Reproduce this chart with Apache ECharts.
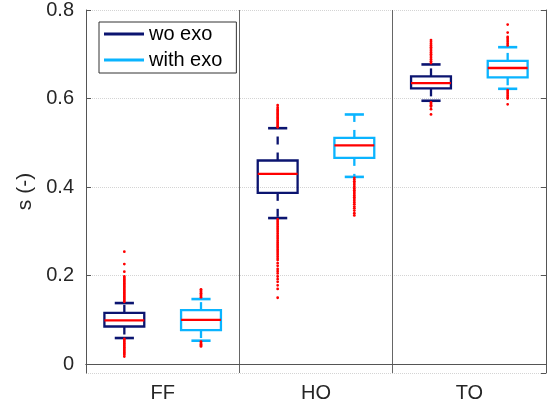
<!DOCTYPE html>
<html><head><meta charset="utf-8">
<script src="https://cdn.jsdelivr.net/npm/echarts@6/dist/echarts.min.js"></script>
<style>html,body{margin:0;padding:0;background:#fff}#c{width:553px;height:409px}</style>
</head><body><div id="c"></div>
<script>
const categories = ['FF', 'HO', 'TO'];
// per category: [lower whisker, q1, median, q3, upper whisker]
const woExoStats = [
  [0.059, 0.085, 0.099, 0.116, 0.138],
  [0.330, 0.387, 0.430, 0.460, 0.533],
  [0.595, 0.623, 0.635, 0.650, 0.677]
];
const withExoStats = [
  [0.053, 0.077, 0.100, 0.122, 0.147],
  [0.423, 0.466, 0.494, 0.511, 0.564],
  [0.622, 0.648, 0.669, 0.685, 0.716]
];
const woExoOutliers = [
  [0.254, 0.226, 0.209, 0.198, 0.195, 0.192, 0.189, 0.186, 0.183, 0.180, 0.177, 0.174, 0.171, 0.168, 0.165, 0.162, 0.159, 0.156, 0.153, 0.150, 0.147, 0.144, 0.141,
   0.057, 0.054, 0.051, 0.048, 0.045, 0.042, 0.039, 0.036, 0.033, 0.030, 0.027, 0.024, 0.021, 0.017],
  [0.585, 0.580, 0.576, 0.573, 0.570, 0.567, 0.564, 0.561, 0.558, 0.555, 0.552, 0.549, 0.546, 0.543, 0.540, 0.537, 0.535,
   0.327, 0.323, 0.319, 0.315, 0.311, 0.307, 0.303, 0.299, 0.295, 0.291, 0.287, 0.283, 0.279, 0.275, 0.271, 0.267, 0.263, 0.259, 0.255, 0.251, 0.247, 0.243, 0.239, 0.235,
   0.228, 0.222, 0.215, 0.210, 0.205, 0.198, 0.192, 0.186, 0.178, 0.170, 0.150],
  [0.680, 0.684, 0.688, 0.692, 0.696, 0.700, 0.704, 0.708, 0.712, 0.716, 0.720, 0.724, 0.728, 0.732,
   0.591, 0.588, 0.585, 0.582, 0.576, 0.564]
];
const withExoOutliers = [
  [0.169, 0.166, 0.163, 0.160, 0.157, 0.154, 0.151,
   0.051, 0.048, 0.045, 0.042, 0.040],
  [0.421, 0.417, 0.413, 0.409, 0.405, 0.401, 0.397, 0.393, 0.389, 0.385, 0.381, 0.377, 0.373, 0.369, 0.365, 0.361, 0.356, 0.352, 0.347, 0.341, 0.336],
  [0.720, 0.724, 0.728, 0.732, 0.736, 0.739, 0.749, 0.767,
   0.619, 0.615, 0.611, 0.607, 0.603, 0.600, 0.587]
];

const NAVY = '#0b1470';
const LIGHT = '#0ab4ff';
const RED = '#ff0000';
const FONT = 'Liberation Sans, Arial, Helvetica, sans-serif';
const TXT = '#262626';

function boxRenderer(side, color) {
  return function (params, api) {
    const cat = api.value(0);
    const band = api.size([1, 0])[0];
    const cx = api.coord([cat, 0])[0] + side * band / 4;
    const y = i => api.coord([cat, api.value(i)])[1];
    const wLo = y(1), q1 = y(2), med = y(3), q3 = y(4), wHi = y(5);
    const bw = band * 0.26, cw = band * 0.125;
    const ls = { stroke: color, lineWidth: 2.3, fill: null };
    return {
      type: 'group',
      children: [
        { type: 'line', shape: { x1: cx, y1: q3, x2: cx, y2: wHi }, style: Object.assign({}, ls, { lineDash: [8, 8] }) },
        { type: 'line', shape: { x1: cx, y1: q1, x2: cx, y2: wLo }, style: Object.assign({}, ls, { lineDash: [8, 8] }) },
        { type: 'line', shape: { x1: cx - cw / 2, y1: wHi, x2: cx + cw / 2, y2: wHi }, style: Object.assign({}, ls, { lineWidth: 2.6 }) },
        { type: 'line', shape: { x1: cx - cw / 2, y1: wLo, x2: cx + cw / 2, y2: wLo }, style: Object.assign({}, ls, { lineWidth: 2.6 }) },
        { type: 'rect', shape: { x: cx - bw / 2, y: q3, width: bw, height: q1 - q3 }, style: ls },
        { type: 'line', shape: { x1: cx - bw / 2, y1: med, x2: cx + bw / 2, y2: med }, style: { stroke: RED, lineWidth: 2.3 } }
      ]
    };
  };
}
function outlierRenderer(side) {
  return function (params, api) {
    const cat = api.value(0);
    const band = api.size([1, 0])[0];
    const p = api.coord([cat, api.value(1)]);
    return { type: 'circle', shape: { cx: p[0] + side * band / 4, cy: p[1], r: 1.4 }, style: { fill: RED } };
  };
}
const boxData = stats => stats.map((s, i) => [i].concat(s));
const outData = outs => { const d = []; outs.forEach((arr, i) => arr.forEach(v => d.push([i, v]))); return d; };

const yCommon = { type: 'value', min: -0.02, max: 0.8, splitNumber: 4 };
const option = {
  animation: false,
  backgroundColor: '#fff',
  grid: { left: 86, right: 7, top: 9, bottom: 36 },
  legend: {
    orient: 'vertical', left: 99, top: 22,
    padding: [2, 14, 3, 5], itemGap: 6, itemWidth: 40, itemHeight: 3,
    borderColor: '#333', borderWidth: 1, backgroundColor: '#fff',
    textStyle: { fontSize: 20, lineHeight: 20, color: '#000', fontFamily: FONT },
    data: [
      { name: 'wo exo', icon: 'rect', itemStyle: { color: NAVY } },
      { name: 'with exo', icon: 'rect', itemStyle: { color: LIGHT } }
    ]
  },
  xAxis: [
    {
      type: 'category', data: categories, position: 'bottom',
      axisLine: { lineStyle: { color: '#555', width: 1 } },
      axisTick: { inside: true, alignWithLabel: true, length: 5, lineStyle: { color: '#555' } },
      axisLabel: { fontSize: 20, color: TXT, fontFamily: FONT, margin: 10 },
      splitLine: { show: true, lineStyle: { color: '#666', width: 1 } }
    },
    {
      type: 'category', data: categories, position: 'top',
      axisLine: { lineStyle: { color: '#555', width: 1 } },
      axisTick: { inside: true, alignWithLabel: true, length: 5, lineStyle: { color: '#555' } },
      axisLabel: { show: false }, splitLine: { show: false }
    }
  ],
  yAxis: [
    Object.assign({}, yCommon, {
      position: 'left',
      name: 's (-)', nameLocation: 'middle', nameGap: 45, nameRotate: 90,
      nameTextStyle: { fontSize: 21, color: TXT, fontFamily: FONT },
      axisLine: { show: true, lineStyle: { color: '#555', width: 1 } },
      axisTick: { show: true, inside: true, length: 5, lineStyle: { color: '#555' } },
      axisLabel: { fontSize: 20, color: TXT, fontFamily: FONT, margin: 12, showMinLabel: false,
        formatter: v => (v < -1e-9 ? '' : String(Math.round(v * 10) / 10)) },
      splitLine: { show: true, lineStyle: { color: '#d4d4d4', type: 'dotted', width: 1 } }
    }),
    Object.assign({}, yCommon, {
      position: 'right',
      axisLine: { show: true, lineStyle: { color: '#555', width: 1 } },
      axisTick: { show: true, inside: true, length: 5, lineStyle: { color: '#555' } },
      axisLabel: { show: false }, splitLine: { show: false }
    })
  ],
  series: [
    { name: 'wo exo', type: 'custom', xAxisIndex: 0, yAxisIndex: 0, z: 2,
      renderItem: boxRenderer(-1, NAVY), encode: { x: 0, y: [1, 2, 3, 4, 5] }, data: boxData(woExoStats) },
    { name: 'with exo', type: 'custom', xAxisIndex: 0, yAxisIndex: 0, z: 2,
      renderItem: boxRenderer(1, LIGHT), encode: { x: 0, y: [1, 2, 3, 4, 5] }, data: boxData(withExoStats) },
    { name: 'wo exo outliers', type: 'custom', xAxisIndex: 0, yAxisIndex: 0, z: 3,
      renderItem: outlierRenderer(-1), encode: { x: 0, y: 1 }, data: outData(woExoOutliers) },
    { name: 'with exo outliers', type: 'custom', xAxisIndex: 0, yAxisIndex: 0, z: 3,
      renderItem: outlierRenderer(1), encode: { x: 0, y: 1 }, data: outData(withExoOutliers) }
  ]
};
const chart = echarts.init(document.getElementById('c'), null, { renderer: 'canvas' });
chart.setOption(option);
</script>
</body></html>
